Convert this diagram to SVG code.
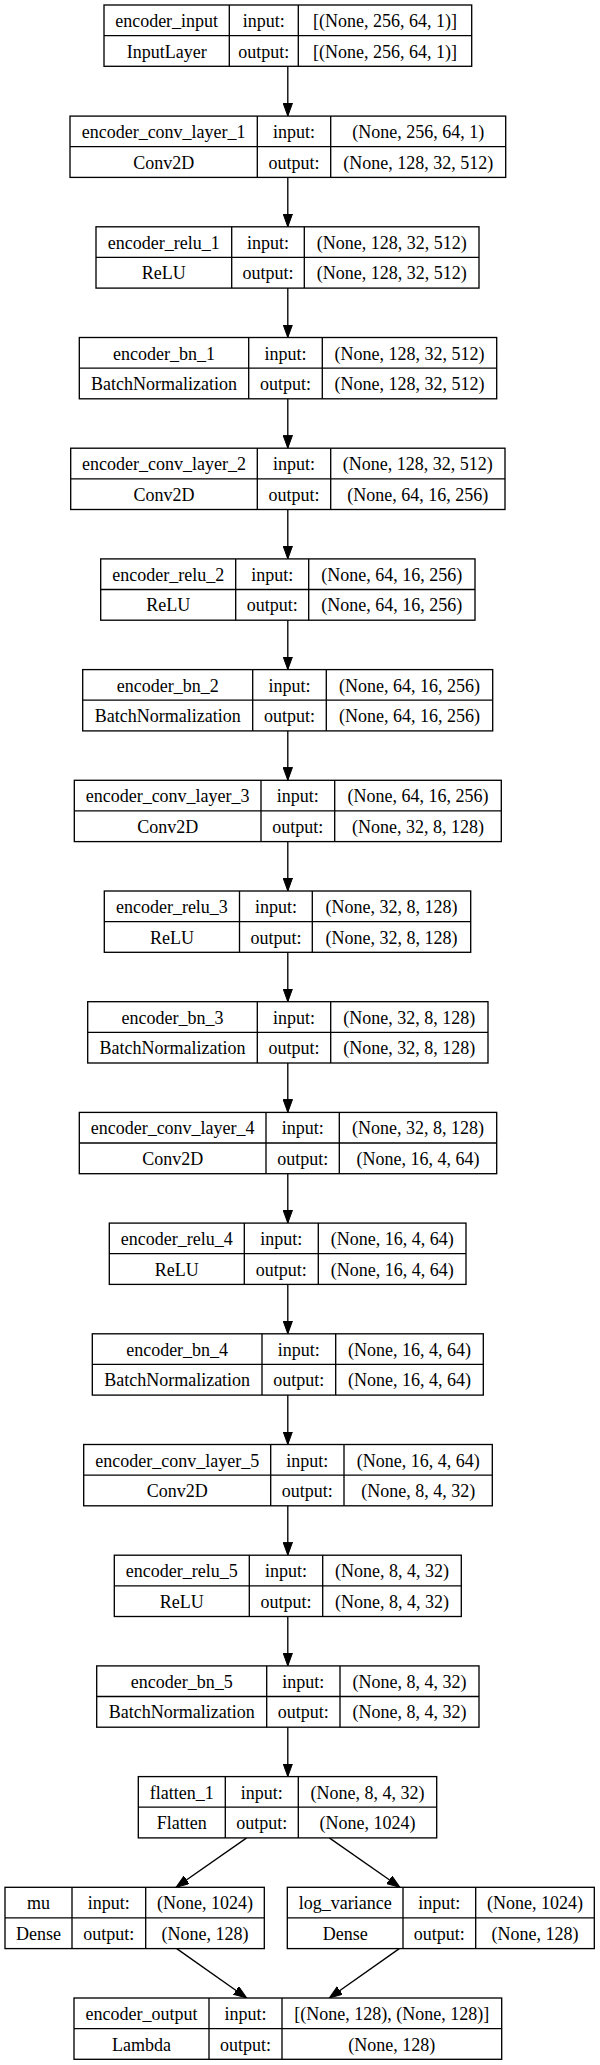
<svg xmlns="http://www.w3.org/2000/svg" width="600" height="2065" viewBox="0 0 600 2065">
<style>
.box{fill:#fff;stroke:#000;stroke-width:1.33}
.sep{stroke:#000;stroke-width:1.33}
text{font-family:"Liberation Serif","Times New Roman",serif;font-size:18px;fill:#000;text-anchor:middle}
.edge{stroke:#000;stroke-width:1.33;fill:none;marker-end:url(#ah)}
</style>
<defs>
<marker id="ah" markerUnits="userSpaceOnUse" markerWidth="14" markerHeight="10" refX="13" refY="4.7" orient="auto" viewBox="0 0 14 10">
<path d="M0,0 L13,4.7 L0,9.4 z" fill="#000" stroke="#000" stroke-width="1"/>
</marker>
</defs>
<rect width="600" height="2065" fill="#fff"/>
<g id="connectors">
<line class="edge" x1="287.8" y1="66.3" x2="287.8" y2="116.1"/>
<line class="edge" x1="287.8" y1="177.4" x2="287.8" y2="226.8"/>
<line class="edge" x1="287.8" y1="288.1" x2="287.8" y2="337.5"/>
<line class="edge" x1="287.8" y1="398.8" x2="287.8" y2="448.2"/>
<line class="edge" x1="287.8" y1="509.5" x2="287.8" y2="558.9"/>
<line class="edge" x1="287.8" y1="620.2" x2="287.8" y2="669.6"/>
<line class="edge" x1="287.8" y1="730.9" x2="287.8" y2="780.3"/>
<line class="edge" x1="287.8" y1="841.6" x2="287.8" y2="891"/>
<line class="edge" x1="287.8" y1="952.3" x2="287.8" y2="1001.7"/>
<line class="edge" x1="287.8" y1="1063" x2="287.8" y2="1112.4"/>
<line class="edge" x1="287.8" y1="1173.7" x2="287.8" y2="1223.1"/>
<line class="edge" x1="287.8" y1="1284.4" x2="287.8" y2="1333.8"/>
<line class="edge" x1="287.8" y1="1395.1" x2="287.8" y2="1444.5"/>
<line class="edge" x1="287.8" y1="1505.8" x2="287.8" y2="1555.2"/>
<line class="edge" x1="287.8" y1="1616.5" x2="287.8" y2="1665.9"/>
<line class="edge" x1="287.8" y1="1727.2" x2="287.8" y2="1776.6"/>
<line class="edge" x1="246.7" y1="1837.9" x2="176" y2="1887.3"/>
<line class="edge" x1="329.3" y1="1837.9" x2="400" y2="1887.3"/>
<line class="edge" x1="176.7" y1="1948.6" x2="246.7" y2="1998"/>
<line class="edge" x1="399.3" y1="1948.6" x2="329.3" y2="1998"/>
</g>
<g id="encoder_input">
<rect class="box" x="104" y="5" width="367.7" height="61.3"/>
<line class="sep" x1="104" y1="35.6" x2="471.7" y2="35.6"/>
<line class="sep" x1="229.3" y1="5" x2="229.3" y2="66.3"/>
<line class="sep" x1="298.3" y1="5" x2="298.3" y2="66.3"/>
<text x="166.65" y="27">encoder_input</text><text x="263.8" y="27">input:</text><text x="385" y="27">[(None, 256, 64, 1)]</text>
<text x="166.65" y="57.5">InputLayer</text><text x="263.8" y="57.5">output:</text><text x="385" y="57.5">[(None, 256, 64, 1)]</text>
</g>
<g id="encoder_conv_layer_1">
<rect class="box" x="70" y="116.1" width="435.7" height="61.3"/>
<line class="sep" x1="70" y1="146.7" x2="505.7" y2="146.7"/>
<line class="sep" x1="257.3" y1="116.1" x2="257.3" y2="177.4"/>
<line class="sep" x1="330.7" y1="116.1" x2="330.7" y2="177.4"/>
<text x="163.65" y="138.1">encoder_conv_layer_1</text><text x="294" y="138.1">input:</text><text x="418.2" y="138.1">(None, 256, 64, 1)</text>
<text x="163.65" y="168.6">Conv2D</text><text x="294" y="168.6">output:</text><text x="418.2" y="168.6">(None, 128, 32, 512)</text>
</g>
<g id="encoder_relu_1">
<rect class="box" x="96" y="226.8" width="383" height="61.3"/>
<line class="sep" x1="96" y1="257.4" x2="479" y2="257.4"/>
<line class="sep" x1="231.7" y1="226.8" x2="231.7" y2="288.1"/>
<line class="sep" x1="304.3" y1="226.8" x2="304.3" y2="288.1"/>
<text x="163.85" y="248.8">encoder_relu_1</text><text x="268" y="248.8">input:</text><text x="391.65" y="248.8">(None, 128, 32, 512)</text>
<text x="163.85" y="279.3">ReLU</text><text x="268" y="279.3">output:</text><text x="391.65" y="279.3">(None, 128, 32, 512)</text>
</g>
<g id="encoder_bn_1">
<rect class="box" x="79.3" y="337.5" width="417.4" height="61.3"/>
<line class="sep" x1="79.3" y1="368.1" x2="496.7" y2="368.1"/>
<line class="sep" x1="248.7" y1="337.5" x2="248.7" y2="398.8"/>
<line class="sep" x1="322.3" y1="337.5" x2="322.3" y2="398.8"/>
<text x="164" y="359.5">encoder_bn_1</text><text x="285.5" y="359.5">input:</text><text x="409.5" y="359.5">(None, 128, 32, 512)</text>
<text x="164" y="390">BatchNormalization</text><text x="285.5" y="390">output:</text><text x="409.5" y="390">(None, 128, 32, 512)</text>
</g>
<g id="encoder_conv_layer_2">
<rect class="box" x="70.7" y="448.2" width="434.3" height="61.3"/>
<line class="sep" x1="70.7" y1="478.8" x2="505" y2="478.8"/>
<line class="sep" x1="257.3" y1="448.2" x2="257.3" y2="509.5"/>
<line class="sep" x1="330.7" y1="448.2" x2="330.7" y2="509.5"/>
<text x="164" y="470.2">encoder_conv_layer_2</text><text x="294" y="470.2">input:</text><text x="417.85" y="470.2">(None, 128, 32, 512)</text>
<text x="164" y="500.7">Conv2D</text><text x="294" y="500.7">output:</text><text x="417.85" y="500.7">(None, 64, 16, 256)</text>
</g>
<g id="encoder_relu_2">
<rect class="box" x="100.7" y="558.9" width="374.3" height="61.3"/>
<line class="sep" x1="100.7" y1="589.5" x2="475" y2="589.5"/>
<line class="sep" x1="235.7" y1="558.9" x2="235.7" y2="620.2"/>
<line class="sep" x1="308.7" y1="558.9" x2="308.7" y2="620.2"/>
<text x="168.2" y="580.9">encoder_relu_2</text><text x="272.2" y="580.9">input:</text><text x="391.85" y="580.9">(None, 64, 16, 256)</text>
<text x="168.2" y="611.4">ReLU</text><text x="272.2" y="611.4">output:</text><text x="391.85" y="611.4">(None, 64, 16, 256)</text>
</g>
<g id="encoder_bn_2">
<rect class="box" x="82.7" y="669.6" width="410" height="61.3"/>
<line class="sep" x1="82.7" y1="700.2" x2="492.7" y2="700.2"/>
<line class="sep" x1="252.7" y1="669.6" x2="252.7" y2="730.9"/>
<line class="sep" x1="326.3" y1="669.6" x2="326.3" y2="730.9"/>
<text x="167.7" y="691.6">encoder_bn_2</text><text x="289.5" y="691.6">input:</text><text x="409.5" y="691.6">(None, 64, 16, 256)</text>
<text x="167.7" y="722.1">BatchNormalization</text><text x="289.5" y="722.1">output:</text><text x="409.5" y="722.1">(None, 64, 16, 256)</text>
</g>
<g id="encoder_conv_layer_3">
<rect class="box" x="74.3" y="780.3" width="427" height="61.3"/>
<line class="sep" x1="74.3" y1="810.9" x2="501.3" y2="810.9"/>
<line class="sep" x1="261" y1="780.3" x2="261" y2="841.6"/>
<line class="sep" x1="334.7" y1="780.3" x2="334.7" y2="841.6"/>
<text x="167.65" y="802.3">encoder_conv_layer_3</text><text x="297.85" y="802.3">input:</text><text x="418" y="802.3">(None, 64, 16, 256)</text>
<text x="167.65" y="832.8">Conv2D</text><text x="297.85" y="832.8">output:</text><text x="418" y="832.8">(None, 32, 8, 128)</text>
</g>
<g id="encoder_relu_3">
<rect class="box" x="104.3" y="891" width="366.4" height="61.3"/>
<line class="sep" x1="104.3" y1="921.6" x2="470.7" y2="921.6"/>
<line class="sep" x1="239.5" y1="891" x2="239.5" y2="952.3"/>
<line class="sep" x1="312.3" y1="891" x2="312.3" y2="952.3"/>
<text x="171.9" y="913">encoder_relu_3</text><text x="275.9" y="913">input:</text><text x="391.5" y="913">(None, 32, 8, 128)</text>
<text x="171.9" y="943.5">ReLU</text><text x="275.9" y="943.5">output:</text><text x="391.5" y="943.5">(None, 32, 8, 128)</text>
</g>
<g id="encoder_bn_3">
<rect class="box" x="87.7" y="1001.7" width="400.3" height="61.3"/>
<line class="sep" x1="87.7" y1="1032.3" x2="488" y2="1032.3"/>
<line class="sep" x1="257.3" y1="1001.7" x2="257.3" y2="1063"/>
<line class="sep" x1="330.7" y1="1001.7" x2="330.7" y2="1063"/>
<text x="172.5" y="1023.7">encoder_bn_3</text><text x="294" y="1023.7">input:</text><text x="409.35" y="1023.7">(None, 32, 8, 128)</text>
<text x="172.5" y="1054.2">BatchNormalization</text><text x="294" y="1054.2">output:</text><text x="409.35" y="1054.2">(None, 32, 8, 128)</text>
</g>
<g id="encoder_conv_layer_4">
<rect class="box" x="79.3" y="1112.4" width="417.4" height="61.3"/>
<line class="sep" x1="79.3" y1="1143" x2="496.7" y2="1143"/>
<line class="sep" x1="266" y1="1112.4" x2="266" y2="1173.7"/>
<line class="sep" x1="339.3" y1="1112.4" x2="339.3" y2="1173.7"/>
<text x="172.65" y="1134.4">encoder_conv_layer_4</text><text x="302.65" y="1134.4">input:</text><text x="418" y="1134.4">(None, 32, 8, 128)</text>
<text x="172.65" y="1164.9">Conv2D</text><text x="302.65" y="1164.9">output:</text><text x="418" y="1164.9">(None, 16, 4, 64)</text>
</g>
<g id="encoder_relu_4">
<rect class="box" x="109.3" y="1223.1" width="356.7" height="61.3"/>
<line class="sep" x1="109.3" y1="1253.7" x2="466" y2="1253.7"/>
<line class="sep" x1="244.3" y1="1223.1" x2="244.3" y2="1284.4"/>
<line class="sep" x1="318.3" y1="1223.1" x2="318.3" y2="1284.4"/>
<text x="176.8" y="1245.1">encoder_relu_4</text><text x="281.3" y="1245.1">input:</text><text x="392.15" y="1245.1">(None, 16, 4, 64)</text>
<text x="176.8" y="1275.6">ReLU</text><text x="281.3" y="1275.6">output:</text><text x="392.15" y="1275.6">(None, 16, 4, 64)</text>
</g>
<g id="encoder_bn_4">
<rect class="box" x="92.3" y="1333.8" width="391" height="61.3"/>
<line class="sep" x1="92.3" y1="1364.4" x2="483.3" y2="1364.4"/>
<line class="sep" x1="262" y1="1333.8" x2="262" y2="1395.1"/>
<line class="sep" x1="335.7" y1="1333.8" x2="335.7" y2="1395.1"/>
<text x="177.15" y="1355.8">encoder_bn_4</text><text x="298.85" y="1355.8">input:</text><text x="409.5" y="1355.8">(None, 16, 4, 64)</text>
<text x="177.15" y="1386.3">BatchNormalization</text><text x="298.85" y="1386.3">output:</text><text x="409.5" y="1386.3">(None, 16, 4, 64)</text>
</g>
<g id="encoder_conv_layer_5">
<rect class="box" x="83.7" y="1444.5" width="408.6" height="61.3"/>
<line class="sep" x1="83.7" y1="1475.1" x2="492.3" y2="1475.1"/>
<line class="sep" x1="270.7" y1="1444.5" x2="270.7" y2="1505.8"/>
<line class="sep" x1="344" y1="1444.5" x2="344" y2="1505.8"/>
<text x="177.2" y="1466.5">encoder_conv_layer_5</text><text x="307.35" y="1466.5">input:</text><text x="418.15" y="1466.5">(None, 16, 4, 64)</text>
<text x="177.2" y="1497">Conv2D</text><text x="307.35" y="1497">output:</text><text x="418.15" y="1497">(None, 8, 4, 32)</text>
</g>
<g id="encoder_relu_5">
<rect class="box" x="114.3" y="1555.2" width="347" height="61.3"/>
<line class="sep" x1="114.3" y1="1585.8" x2="461.3" y2="1585.8"/>
<line class="sep" x1="249.3" y1="1555.2" x2="249.3" y2="1616.5"/>
<line class="sep" x1="322.7" y1="1555.2" x2="322.7" y2="1616.5"/>
<text x="181.8" y="1577.2">encoder_relu_5</text><text x="286" y="1577.2">input:</text><text x="392" y="1577.2">(None, 8, 4, 32)</text>
<text x="181.8" y="1607.7">ReLU</text><text x="286" y="1607.7">output:</text><text x="392" y="1607.7">(None, 8, 4, 32)</text>
</g>
<g id="encoder_bn_5">
<rect class="box" x="96.7" y="1665.9" width="382.3" height="61.3"/>
<line class="sep" x1="96.7" y1="1696.5" x2="479" y2="1696.5"/>
<line class="sep" x1="266.7" y1="1665.9" x2="266.7" y2="1727.2"/>
<line class="sep" x1="340" y1="1665.9" x2="340" y2="1727.2"/>
<text x="181.7" y="1687.9">encoder_bn_5</text><text x="303.35" y="1687.9">input:</text><text x="409.5" y="1687.9">(None, 8, 4, 32)</text>
<text x="181.7" y="1718.4">BatchNormalization</text><text x="303.35" y="1718.4">output:</text><text x="409.5" y="1718.4">(None, 8, 4, 32)</text>
</g>
<g id="flatten_1">
<rect class="box" x="138.3" y="1776.6" width="298.4" height="61.3"/>
<line class="sep" x1="138.3" y1="1807.2" x2="436.7" y2="1807.2"/>
<line class="sep" x1="225.3" y1="1776.6" x2="225.3" y2="1837.9"/>
<line class="sep" x1="298.3" y1="1776.6" x2="298.3" y2="1837.9"/>
<text x="181.8" y="1798.6">flatten_1</text><text x="261.8" y="1798.6">input:</text><text x="367.5" y="1798.6">(None, 8, 4, 32)</text>
<text x="181.8" y="1829.1">Flatten</text><text x="261.8" y="1829.1">output:</text><text x="367.5" y="1829.1">(None, 1024)</text>
</g>
<g id="mu">
<rect class="box" x="5" y="1887.3" width="259.3" height="61.3"/>
<line class="sep" x1="5" y1="1917.9" x2="264.3" y2="1917.9"/>
<line class="sep" x1="72" y1="1887.3" x2="72" y2="1948.6"/>
<line class="sep" x1="145.7" y1="1887.3" x2="145.7" y2="1948.6"/>
<text x="38.5" y="1909.3">mu</text><text x="108.85" y="1909.3">input:</text><text x="205" y="1909.3">(None, 1024)</text>
<text x="38.5" y="1939.8">Dense</text><text x="108.85" y="1939.8">output:</text><text x="205" y="1939.8">(None, 128)</text>
</g>
<g id="log_variance">
<rect class="box" x="287.3" y="1887.3" width="307" height="61.3"/>
<line class="sep" x1="287.3" y1="1917.9" x2="594.3" y2="1917.9"/>
<line class="sep" x1="403" y1="1887.3" x2="403" y2="1948.6"/>
<line class="sep" x1="475.7" y1="1887.3" x2="475.7" y2="1948.6"/>
<text x="345.15" y="1909.3">log_variance</text><text x="439.35" y="1909.3">input:</text><text x="535" y="1909.3">(None, 1024)</text>
<text x="345.15" y="1939.8">Dense</text><text x="439.35" y="1939.8">output:</text><text x="535" y="1939.8">(None, 128)</text>
</g>
<g id="encoder_output">
<rect class="box" x="74" y="1998" width="427.7" height="61.3"/>
<line class="sep" x1="74" y1="2028.6" x2="501.7" y2="2028.6"/>
<line class="sep" x1="209" y1="1998" x2="209" y2="2059.3"/>
<line class="sep" x1="282" y1="1998" x2="282" y2="2059.3"/>
<text x="141.5" y="2020">encoder_output</text><text x="245.5" y="2020">input:</text><text x="391.85" y="2020">[(None, 128), (None, 128)]</text>
<text x="141.5" y="2050.5">Lambda</text><text x="245.5" y="2050.5">output:</text><text x="391.85" y="2050.5">(None, 128)</text>
</g>
</svg>
